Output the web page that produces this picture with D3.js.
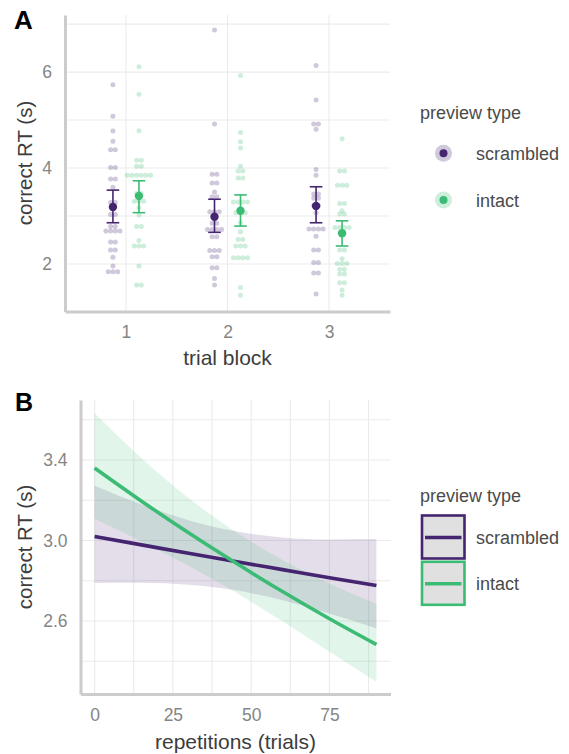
<!DOCTYPE html>
<html>
<head>
<meta charset="utf-8">
<script src="https://cdn.jsdelivr.net/npm/d3@7"></script>
<style>
  body { margin: 0; background: #fff; }
  svg { display: block; font-family: "Liberation Sans", Arial, Helvetica, sans-serif; }
</style>
</head>
<body>
<div id="chart"></div>
<script>
// ---- data ----
const blocks = [1, 2, 3];
const previewTypes = ["scrambled", "intact"];

// panel A: individual participant RTs per block
const dotsScrambled = [
  [5.735, 5.08, 4.77, 4.56, 4.38, 4.38, 4.01, 4.01, 3.77, 3.77, 3.6, 3.28, 3.28, 3.03, 3.03,
   2.78, 2.78, 2.69, 2.69, 2.69, 2.69, 2.46, 2.46, 2.29, 2.29, 2.14, 1.96, 1.84, 1.84, 1.84],
  [6.875, 4.92, 3.87, 3.87, 3.69, 3.69, 3.5, 3.4, 3.4, 3.09, 3.09, 3.09, 2.85, 2.85,
   2.72, 2.72, 2.72, 2.72, 2.57, 2.57, 2.28, 2.28, 2.28, 2.15, 2.15, 1.92, 1.92, 1.7, 1.56],
  [6.14, 5.42, 4.92, 4.92, 4.81, 3.97, 3.85, 3.46, 3.46, 3.37, 3.37, 3.22, 3.22, 3.07,
   2.73, 2.73, 2.73, 2.73, 2.58, 2.29, 2.29, 2.03, 2.03, 1.81, 1.81, 1.375]
];
const dotsIntact = [
  [6.11, 5.54, 4.78, 4.16, 4.16, 4.04, 4.04, 3.85, 3.85, 3.85, 3.85, 3.85, 3.85, 3.47, 3.47,
   3.31, 3.31, 3.31, 3.17, 3.02, 2.78, 2.78, 2.49, 2.375, 2.375, 2.375, 1.96, 1.56, 1.56],
  [5.93, 4.74, 4.55, 4.42, 4.04, 3.94, 3.94, 3.79, 3.79, 3.29, 3.29, 3.29, 3.29, 3.07, 3.07, 3.07,
   2.86, 2.67, 2.51, 2.51, 2.375, 2.375, 2.375, 2.13, 2.13, 2.13, 2.13, 1.51, 1.35],
  [4.61, 3.94, 3.94, 3.64, 3.64, 3.64, 3.26, 3.26, 3.11, 3.04, 3.04, 2.76, 2.76, 2.76, 2.76,
   2.29, 2.29, 2.11, 2.01, 2.01, 2.01, 1.89, 1.89, 1.79, 1.79, 1.61, 1.61, 1.46, 1.35]
];

// panel A: means with error bars
const meanScrambled = [3.19, 2.985, 3.21];
const lowScrambled = [2.86, 2.66, 2.86];
const highScrambled = [3.54, 3.35, 3.61];
const meanIntact = [3.417, 3.11, 2.64];
const lowIntact = [3.07, 2.79, 2.375];
const highIntact = [3.735, 3.44, 2.90];
const yTicksA = [2, 4, 6];

// panel B: model fit over repetitions
const repetitions = [0, 15, 30, 45, 60, 75, 90];
const fitScrambled = [3.02, 2.978, 2.936, 2.895, 2.855, 2.815, 2.776];
const loScrambled = [2.788, 2.790, 2.780, 2.752, 2.703, 2.637, 2.563];
const hiScrambled = [3.272, 3.179, 3.101, 3.046, 3.015, 3.005, 3.007];
const fitIntact = [3.36, 3.195, 3.038, 2.889, 2.746, 2.611, 2.483];
const loIntact = [3.108, 2.995, 2.874, 2.743, 2.598, 2.447, 2.297];
const hiIntact = [3.632, 3.409, 3.211, 3.043, 2.903, 2.786, 2.684];
const yTicksB = [2.6, 3.0, 3.4];
const xTicksB = [0, 25, 50, 75];

const colors = { scrambled: "#452470", intact: "#3cbb75" };

// ---- svg ----
const W = 569, H = 754;
const svg = d3.select("#chart").append("svg").attr("width", W).attr("height", H);

const gridColor = "#ebebeb";
const axisColor = "#cccccc";
const tickColor = "#858585";
const titleColor = "#3d3d3d";

function styleAxis(g, fontSize) {
  g.select(".domain").attr("stroke", axisColor).attr("stroke-width", 3);
  g.selectAll(".tick line").remove();
  g.selectAll(".tick text").attr("fill", tickColor).attr("font-size", fontSize)
    .attr("font-family", "Liberation Sans, Arial, sans-serif");
}

// ================= Panel A =================
const xA = d3.scaleLinear().domain([0.4, 3.6]).range([65, 390]);
const yA = d3.scaleLinear().domain([1.01, 7.19]).range([311.5, 15]);
const gA = svg.append("g");

gA.append("g").selectAll("line").data([2, 3, 4, 5, 6, 7]).join("line")
  .attr("x1", xA.range()[0]).attr("x2", xA.range()[1])
  .attr("y1", d => yA(d)).attr("y2", d => yA(d))
  .attr("stroke", gridColor).attr("stroke-width", 1.1);
gA.append("g").selectAll("line").data(blocks).join("line")
  .attr("y1", yA.range()[0]).attr("y2", yA.range()[1])
  .attr("x1", d => xA(d)).attr("x2", d => xA(d))
  .attr("stroke", gridColor).attr("stroke-width", 1.1);

gA.append("g").attr("transform", "translate(65,0)")
  .call(d3.axisLeft(yA).tickValues(yTicksA).tickFormat(d3.format("d")).tickSizeOuter(0).tickSize(0).tickPadding(13))
  .call(g => styleAxis(g, 17.5));
gA.append("g").attr("transform", `translate(0,${yA.range()[0]})`)
  .call(d3.axisBottom(xA).tickValues(blocks).tickFormat(d3.format("d")).tickSizeOuter(0).tickSize(0).tickPadding(14))
  .call(g => styleAxis(g, 17.5));

const dodge = 0.128;
const dotR = 2.5, dotStep = 4.7;

function drawDots(sets, type, offset) {
  sets.forEach((vals, i) => {
    const rows = d3.groups(vals, v => v);
    rows.forEach(([v, arr]) => {
      const n = arr.length;
      arr.forEach((_, k) => {
        gA.append("circle")
          .attr("cx", xA(blocks[i] + offset) + (k - (n - 1) / 2) * dotStep)
          .attr("cy", yA(v))
          .attr("r", dotR)
          .attr("fill", colors[type]).attr("fill-opacity", 0.25);
      });
    });
  });
}
drawDots(dotsScrambled, "scrambled", -dodge);
drawDots(dotsIntact, "intact", dodge);

function drawMeans(means, lows, highs, type, offset) {
  const g = gA.append("g").attr("stroke", colors[type]).attr("stroke-width", 1.6);
  blocks.forEach((b, i) => {
    const cx = xA(b + offset);
    g.append("line").attr("x1", cx).attr("x2", cx).attr("y1", yA(lows[i])).attr("y2", yA(highs[i]));
    g.append("line").attr("x1", cx - 6.3).attr("x2", cx + 6.3).attr("y1", yA(lows[i])).attr("y2", yA(lows[i]));
    g.append("line").attr("x1", cx - 6.3).attr("x2", cx + 6.3).attr("y1", yA(highs[i])).attr("y2", yA(highs[i]));
    g.append("circle").attr("cx", cx).attr("cy", yA(means[i])).attr("r", 4.2)
      .attr("fill", colors[type]).attr("stroke", "none");
  });
}
drawMeans(meanScrambled, lowScrambled, highScrambled, "scrambled", -dodge);
drawMeans(meanIntact, lowIntact, highIntact, "intact", dodge);

gA.append("text").attr("transform", "translate(32,163) rotate(-90)")
  .attr("text-anchor", "middle").attr("font-size", 20.5).attr("fill", titleColor)
  .text("correct RT (s)");
gA.append("text").attr("x", 227.5).attr("y", 365)
  .attr("text-anchor", "middle").attr("font-size", 21).attr("fill", titleColor)
  .text("trial block");
svg.append("text").attr("x", 14).attr("y", 29).attr("font-size", 26).attr("font-weight", "bold")
  .text("A");

// legend A
const legA = svg.append("g");
legA.append("text").attr("x", 420).attr("y", 119).attr("font-size", 18).attr("fill", "#4a4a4a")
  .text("preview type");
previewTypes.forEach((t, i) => {
  const cy = 153.3 + i * 46.7;
  legA.append("circle").attr("cx", 443.5).attr("cy", cy).attr("r", 8.5)
    .attr("fill", colors[t]).attr("fill-opacity", 0.25);
  legA.append("circle").attr("cx", 443.5).attr("cy", cy).attr("r", 4)
    .attr("fill", colors[t]);
  legA.append("text").attr("x", 476).attr("y", cy + 6.5).attr("font-size", 18).attr("fill", "#4a4a4a")
    .text(t);
});

// ================= Panel B =================
const xB = d3.scaleLinear().domain([-4.5, 94.5]).range([80.5, 390.5]);
const yB = d3.scaleLinear().domain([2.237, 3.698]).range([694, 400]);
const gB = svg.append("g");

gB.append("g").selectAll("line").data([2.4, 2.6, 2.8, 3.0, 3.2, 3.4, 3.6]).join("line")
  .attr("x1", xB.range()[0]).attr("x2", xB.range()[1])
  .attr("y1", d => yB(d)).attr("y2", d => yB(d))
  .attr("stroke", gridColor).attr("stroke-width", 1.1);
gB.append("g").selectAll("line").data([0, 12.5, 25, 37.5, 50, 62.5, 75, 87.5]).join("line")
  .attr("y1", yB.range()[0]).attr("y2", yB.range()[1])
  .attr("x1", d => xB(d)).attr("x2", d => xB(d))
  .attr("stroke", gridColor).attr("stroke-width", 1.1);

gB.append("g").attr("transform", `translate(${xB.range()[0]},0)`)
  .call(d3.axisLeft(yB).tickValues(yTicksB).tickFormat(d3.format(".1f")).tickSizeOuter(0).tickSize(0).tickPadding(13))
  .call(g => styleAxis(g, 17.5));
gB.append("g").attr("transform", `translate(0,${yB.range()[0]})`)
  .call(d3.axisBottom(xB).tickValues(xTicksB).tickFormat(d3.format("d")).tickSizeOuter(0).tickSize(0).tickPadding(15))
  .call(g => styleAxis(g, 17.5));

const series = [
  { type: "scrambled", fit: fitScrambled, lo: loScrambled, hi: hiScrambled },
  { type: "intact", fit: fitIntact, lo: loIntact, hi: hiIntact }
];
const area = d3.area().curve(d3.curveMonotoneX)
  .x(d => xB(d.x)).y0(d => yB(d.lo)).y1(d => yB(d.hi));
const line = d3.line().curve(d3.curveMonotoneX)
  .x(d => xB(d.x)).y(d => yB(d.y));

series.forEach(s => {
  const pts = repetitions.map((x, i) => ({ x, lo: s.lo[i], hi: s.hi[i] }));
  gB.append("path").datum(pts).attr("d", area)
    .attr("fill", colors[s.type]).attr("fill-opacity", 0.15);
});
series.forEach(s => {
  const pts = repetitions.map((x, i) => ({ x, y: s.fit[i] }));
  gB.append("path").datum(pts).attr("d", line)
    .attr("fill", "none").attr("stroke", colors[s.type]).attr("stroke-width", 3.6);
});

gB.append("text").attr("transform", "translate(32,547) rotate(-90)")
  .attr("text-anchor", "middle").attr("font-size", 20.5).attr("fill", titleColor)
  .text("correct RT (s)");
gB.append("text").attr("x", 235.5).attr("y", 749)
  .attr("text-anchor", "middle").attr("font-size", 21).attr("fill", titleColor)
  .text("repetitions (trials)");
svg.append("text").attr("x", 15).attr("y", 411).attr("font-size", 25).attr("font-weight", "bold")
  .text("B");

// legend B
const legB = svg.append("g");
legB.append("text").attr("x", 420).attr("y", 502).attr("font-size", 18).attr("fill", "#4a4a4a")
  .text("preview type");
previewTypes.forEach((t, i) => {
  const top = 515.5 + i * 46.3;
  legB.append("rect").attr("x", 422).attr("y", top).attr("width", 42.5).attr("height", 43)
    .attr("fill", "#e0e0e0").attr("stroke", colors[t]).attr("stroke-width", 2.6);
  legB.append("line").attr("x1", 425).attr("x2", 461.5).attr("y1", top + 22).attr("y2", top + 22)
    .attr("stroke", colors[t]).attr("stroke-width", 3.4);
  legB.append("text").attr("x", 476).attr("y", top + 28.5).attr("font-size", 18).attr("fill", "#4a4a4a")
    .text(t);
});
</script>
</body>
</html>
